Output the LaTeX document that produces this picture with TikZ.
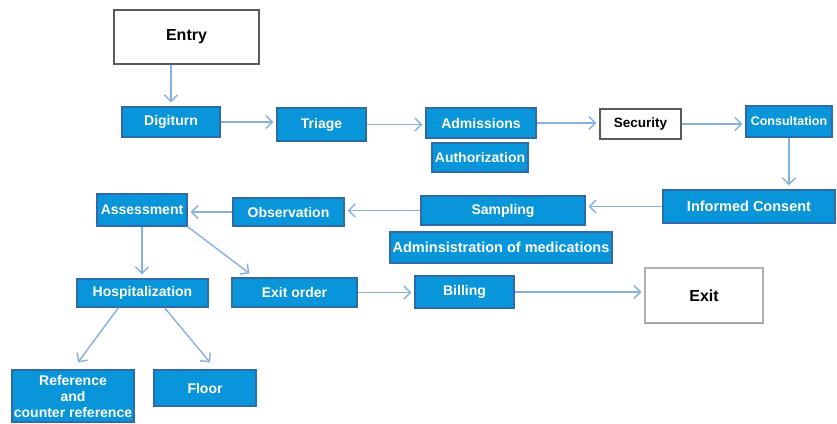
\documentclass[tikz,border=0pt]{standalone}
\usepackage{fontspec}
\setmainfont{Liberation Sans}
\usepackage{xcolor}
\usepackage{tikz}
\usetikzlibrary{arrows.meta,calc}
\definecolor{hbblue}{HTML}{0895D9}
\definecolor{hbedge}{HTML}{2F6AAA}
\definecolor{hbarrow}{HTML}{86B0E0}
\definecolor{hbgray}{HTML}{5A5A5A}

\begin{document}
\begin{tikzpicture}[
  x=1pt, y=-1pt,
  procbox/.style={rectangle, draw=hbedge, fill=hbblue, line width=1.2pt, text=white, inner sep=0pt, align=center},
  plainbox/.style={rectangle, draw=hbgray, fill=white, line width=1.1pt, text=black, inner sep=0pt, align=center},
  flowarr/.style={-{Straight Barb[length=6.5pt,width=13pt]}, draw=hbarrow, line width=1.4pt},
]
\useasboundingbox (0,0) rectangle (837,423);

% White start / stop boxes
\node[plainbox, minimum width=145pt, minimum height=54pt, font=\bfseries\fontsize{16}{18}\selectfont] (entry) at (186.5,37) {Entry};
\node[plainbox, minimum width=81pt, minimum height=30pt, font=\bfseries\fontsize{13.5}{15}\selectfont] (security) at (640.5,124) {Security};
\node[plainbox, draw=gray!60, minimum width=118pt, minimum height=55pt, font=\bfseries\fontsize{16}{18}\selectfont] (exit) at (704,295.5) {Exit};
\draw[gray!80, line width=1.6pt] (exit.south west) -- (exit.south east);

% Blue process boxes: name / centre x / centre y / width / height / font size / text
\foreach \nm/\x/\y/\w/\h/\fs/\txt in {%
  digiturn/171/122/98/30/14/{Digiturn},
  triage/321.5/124.5/89/33/14/{Triage},
  admissions/481/123/110/30/14/{Admissions},
  authorization/480/157.5/96/29/14/{Authorization},
  consultation/789/121.5/86/31/12.5/{Consultation},
  consent/749/206.5/172/33/14.5/{Informed Consent},
  sampling/503/210.5/164/29/14/{Sampling},
  medication/501/247.5/222/31/14.5/{Adminsistration of medications},
  observation/288.5/212/111/28/14/{Observation},
  assessment/142/210/90/32/14/{Assessment},
  hospital/142.5/293/131/28/14/{Hospitalization},
  exitorder/294.5/292.5/125/29/14/{Exit order},
  billing/464.5/292/99/32/14/{Billing},
  reference/73/396/122/52/14/{Reference\\and\\counter reference},
  floor/205/388/102/36/14/{Floor}%
} {
  \node[procbox, minimum width=\w pt, minimum height=\h pt, font=\bfseries\fontsize{\fs}{16}\selectfont] (\nm) at (\x,\y) {\txt};
}

% Top row, left to right
\draw[flowarr, shorten >=4pt] (entry.south -| digiturn.north) -- (digiturn.north);
\draw[flowarr, shorten >=3pt] (digiturn.east) -- (digiturn.east -| triage.west);
\draw[flowarr, shorten >=3pt] (triage.east) -- (triage.east -| admissions.west);
\draw[flowarr, shorten >=3pt] (admissions.east) -- (admissions.east -| security.west);
\draw[flowarr, shorten >=3pt] (security.east) -- (security.east -| consultation.west);
\draw[flowarr, shorten >=4pt] (consultation.south) -- (consultation.south |- consent.north);

% Middle row, right to left
\draw[flowarr, shorten >=3pt] (consent.west) -- (consent.west -| sampling.east);
\draw[flowarr, shorten >=3pt] (sampling.west) -- (sampling.west -| observation.east);
\draw[flowarr, shorten >=3pt] (observation.west) -- (observation.west -| assessment.east);

% Branches below the assessment
\draw[flowarr, shorten >=4pt] (assessment.south) -- (assessment.south |- hospital.north);
\draw[flowarr] (assessment.south east) -- ([xshift=18pt,yshift=4pt]exitorder.north west);
\draw[flowarr] ([xshift=-24pt]hospital.south) -- ([xshift=5pt,yshift=7pt]reference.north);
\draw[flowarr] ([xshift=22pt]hospital.south) -- ([xshift=5pt,yshift=7pt]floor.north);

% Bottom row to the exit
\draw[flowarr, shorten >=3pt] (exitorder.east) -- (exitorder.east -| billing.west);
\draw[flowarr, shorten >=3pt] (billing.east) -- (billing.east -| exit.west);
\end{tikzpicture}
\end{document}
